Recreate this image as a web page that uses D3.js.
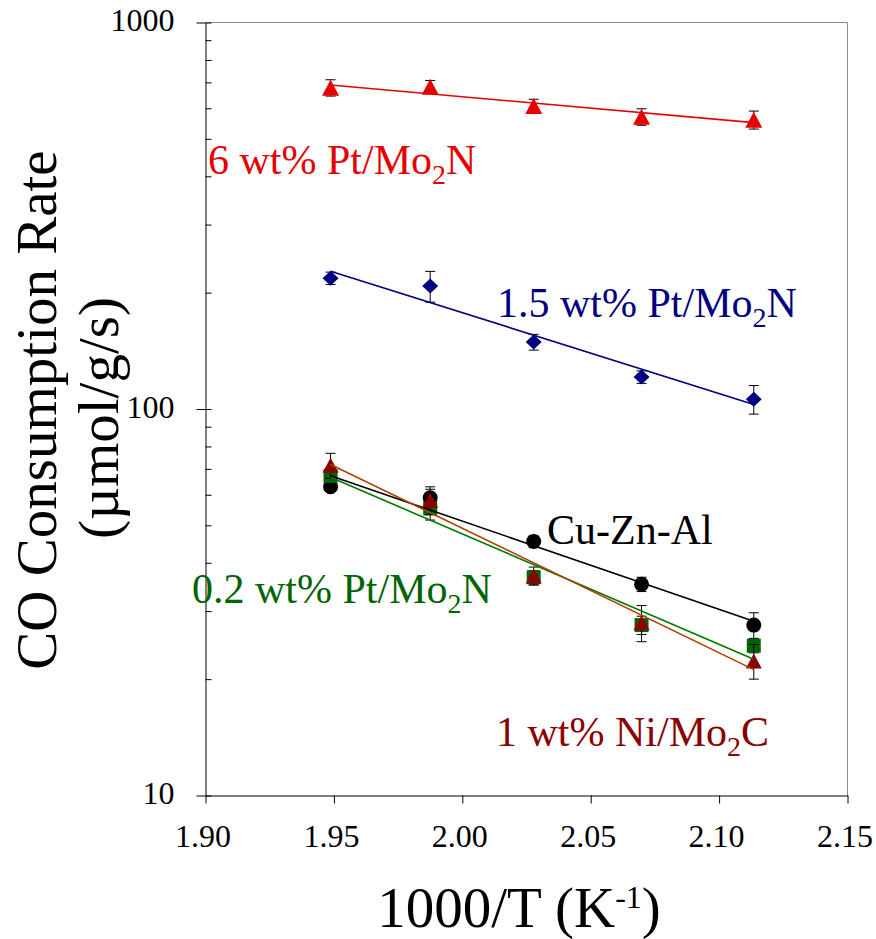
<!DOCTYPE html>
<html>
<head>
<meta charset="utf-8">
<script src="https://cdn.jsdelivr.net/npm/d3@7"></script>
<style>
  html, body { margin: 0; padding: 0; background: #fff; }
  svg { display: block; font-family: "Liberation Serif", "Times New Roman", serif; }
  svg text { font-family: "Liberation Serif", "Times New Roman", serif; }
</style>
</head>
<body>
<svg id="chart" width="876" height="939"></svg>
<script>
// Inverse temperature, 1000/T (K^-1), for 240, 230, 220, 210 and 200 °C
const invT = [1.9487, 1.9875, 2.0278, 2.0698, 2.1135];

// CO consumption rates (µmol/g/s) and their error bars
const pt6 = [678, 682, 608, 570, 560];
const pt6Err = [33, 26, 25, 28, 30];
const pt15 = [218, 208, 149, 121, 106];
const pt15Err = [8, 19, 7, 4.5, 9];
const cuZnAl = [62.9, 58.9, 45.4, 35.2, 27.6];
const cuZnAlErr = [1.5, 3.1, 1.6, 1.5, 2.1];
const pt02 = [67.1, 55.3, 36.7, 27.6, 24.4];
const pt02Err = [1.5, 3.7, 1.5, 1.5, 1.0];
const ni1 = [71.5, 58.1, 37.0, 28.0, 22.3];
const ni1Err = [5.3, 4.8, 2.0, 3.0, 2.3];

// Axis ticks
const xTicks = [1.90, 1.95, 2.00, 2.05, 2.10, 2.15];
const yMajor = [10, 100, 1000];
const yMinor = [20, 30, 40, 50, 60, 70, 80, 90, 200, 300, 400, 500, 600, 700, 800, 900];

const svg = d3.select("#chart");

const x = d3.scaleLinear().domain([1.90, 2.15]).range([205.5, 847.5]);
const y = d3.scaleLog().domain([10, 1000]).range([795.5, 22.5]);

// Plot-area frame (top and right edges)
svg.append("path")
  .attr("d", `M${x(1.90)},${y(1000)}H${x(2.15)}V${y(10)}`)
  .attr("fill", "none").attr("stroke", "#8c8c8c").attr("stroke-width", 1);

// X axis
const xAxis = svg.append("g")
  .attr("transform", `translate(0,${y(10)})`)
  .call(d3.axisBottom(x).tickValues(xTicks).tickSizeInner(8).tickSizeOuter(0)
    .tickPadding(21).tickFormat(d3.format(".2f")));
xAxis.attr("font-size", null).attr("font-family", null);
xAxis.selectAll("text")
  .style("font-size", "32px")
  .style("font-family", "'Liberation Serif', 'Times New Roman', serif")
  .attr("fill", "#000").attr("dx", -3);
xAxis.selectAll("line, path").attr("stroke", "#000");

// Y axis: major ticks cross the axis, minor ticks point inward
const yAxis = svg.append("g")
  .attr("transform", `translate(${x(1.90)},0)`)
  .call(d3.axisLeft(y).tickValues(yMajor).tickSizeInner(9).tickSizeOuter(0)
    .tickPadding(22).tickFormat(d3.format("d")));
yAxis.attr("font-size", null).attr("font-family", null);
yAxis.selectAll("text")
  .style("font-size", "32px")
  .style("font-family", "'Liberation Serif', 'Times New Roman', serif")
  .attr("fill", "#000").attr("dy", "0.25em");
yAxis.selectAll("line, path").attr("stroke", "#000");

const yInner = svg.append("g")
  .attr("transform", `translate(${x(1.90)},0)`)
  .call(d3.axisRight(y).tickValues(yMajor.concat(yMinor)).tickSizeInner(6)
    .tickSizeOuter(0).tickFormat(""));
yInner.select(".domain").remove();
yInner.selectAll("line").attr("stroke", "#000");

// Marker shapes around a centre point
const shapes = {
  triangle: (w, h) => `M0,${-h / 2}L${w / 2},${h / 2}L${-w / 2},${h / 2}Z`,
  diamond: (w, h) => `M0,${-h / 2}L${w / 2},0L0,${h / 2}L${-w / 2},0Z`,
  square: (w) => `M${-w / 2},${-w / 2}h${w}v${w}h${-w}Z`,
  circle: (r) => `M${r},0A${r},${r} 0 1,1 ${-r},0A${r},${r} 0 1,1 ${r},0Z`
};

const series = [
  { vals: pt6, err: pt6Err, color: "#e60000", line: "#e60000", shape: shapes.triangle(17, 16) },
  { vals: pt15, err: pt15Err, color: "#000080", line: "#000080", shape: shapes.diamond(16, 15) },
  { vals: cuZnAl, err: cuZnAlErr, color: "#000000", line: "#000000", shape: shapes.circle(7.5) },
  { vals: pt02, err: pt02Err, color: "#006400", line: "#007800", shape: shapes.square(14) },
  { vals: ni1, err: ni1Err, color: "#8b0000", line: "#b04000", shape: shapes.triangle(16, 15) }
];

// Least-squares exponential trendline (linear fit of log10 rate vs 1000/T)
function expFit(xs, ys) {
  const ly = ys.map(v => Math.log10(v));
  const mx = d3.mean(xs), my = d3.mean(ly);
  const sxy = d3.sum(xs, (xv, i) => (xv - mx) * (ly[i] - my));
  const sxx = d3.sum(xs, xv => (xv - mx) * (xv - mx));
  const b = sxy / sxx;
  return xv => Math.pow(10, my + b * (xv - mx));
}

series.forEach(s => {
  const g = svg.append("g");
  const pts = invT.map((t, i) => ({ t, v: s.vals[i], e: s.err[i] }));
  // error bars
  const eb = g.selectAll(".eb").data(pts).join("g").attr("stroke", "#000").attr("stroke-width", 1);
  eb.append("line")
    .attr("x1", d => x(d.t)).attr("x2", d => x(d.t))
    .attr("y1", d => y(d.v + d.e)).attr("y2", d => y(d.v - d.e));
  eb.append("line")
    .attr("x1", d => x(d.t) - 5).attr("x2", d => x(d.t) + 5)
    .attr("y1", d => y(d.v + d.e)).attr("y2", d => y(d.v + d.e));
  eb.append("line")
    .attr("x1", d => x(d.t) - 5).attr("x2", d => x(d.t) + 5)
    .attr("y1", d => y(d.v - d.e)).attr("y2", d => y(d.v - d.e));
  // markers
  g.selectAll(".m").data(pts).join("path")
    .attr("d", s.shape)
    .attr("transform", d => `translate(${x(d.t)},${y(d.v)})`)
    .attr("fill", s.color);
});

// Trendlines on top
series.forEach(s => {
  const f = expFit(invT, s.vals);
  const t0 = invT[0], t1 = invT[invT.length - 1];
  svg.append("line")
    .attr("x1", x(t0)).attr("y1", y(f(t0)))
    .attr("x2", x(t1)).attr("y2", y(f(t1)))
    .attr("stroke", s.line).attr("stroke-width", 1.6);
});

// Series labels: [main text, subscript, trailing text]
const labelText = [
  ["6 wt% Pt/Mo", "2", "N"],
  ["1.5 wt% Pt/Mo", "2", "N"],
  ["Cu-Zn-Al", "", ""],
  ["0.2 wt% Pt/Mo", "2", "N"],
  ["1 wt% Ni/Mo", "2", "C"]
];
const labelColor = ["#e60000", "#000080", "#000000", "#006400", "#8b0000"];
const labelPos = [[208, 174], [497, 317], [547, 544], [192, 603], [496, 746]];

labelText.forEach((parts, i) => {
  const t = svg.append("text")
    .attr("x", labelPos[i][0]).attr("y", labelPos[i][1])
    .attr("font-size", 42).attr("fill", labelColor[i]);
  t.append("tspan").text(parts[0]);
  if (parts[1]) {
    t.append("tspan").attr("font-size", 28).attr("dy", 10).text(parts[1]);
    t.append("tspan").attr("dy", -10).text(parts[2]);
  }
});

// Axis titles
const xt = svg.append("text")
  .attr("x", 519).attr("y", 927).attr("text-anchor", "middle")
  .attr("font-size", 57).attr("fill", "#000");
xt.append("tspan").text("1000/T (K");
xt.append("tspan").attr("font-size", 32).attr("dy", -19).text("-1");
xt.append("tspan").attr("dy", 19).text(")");

svg.append("text")
  .attr("transform", "translate(56,410) rotate(-90)")
  .attr("text-anchor", "middle").attr("font-size", 57).attr("fill", "#000")
  .text("CO Consumption Rate");
svg.append("text")
  .attr("transform", "translate(118,418) rotate(-90)")
  .attr("text-anchor", "middle").attr("font-size", 57).attr("fill", "#000")
  .text("(µmol/g/s)");
</script>
</body>
</html>
